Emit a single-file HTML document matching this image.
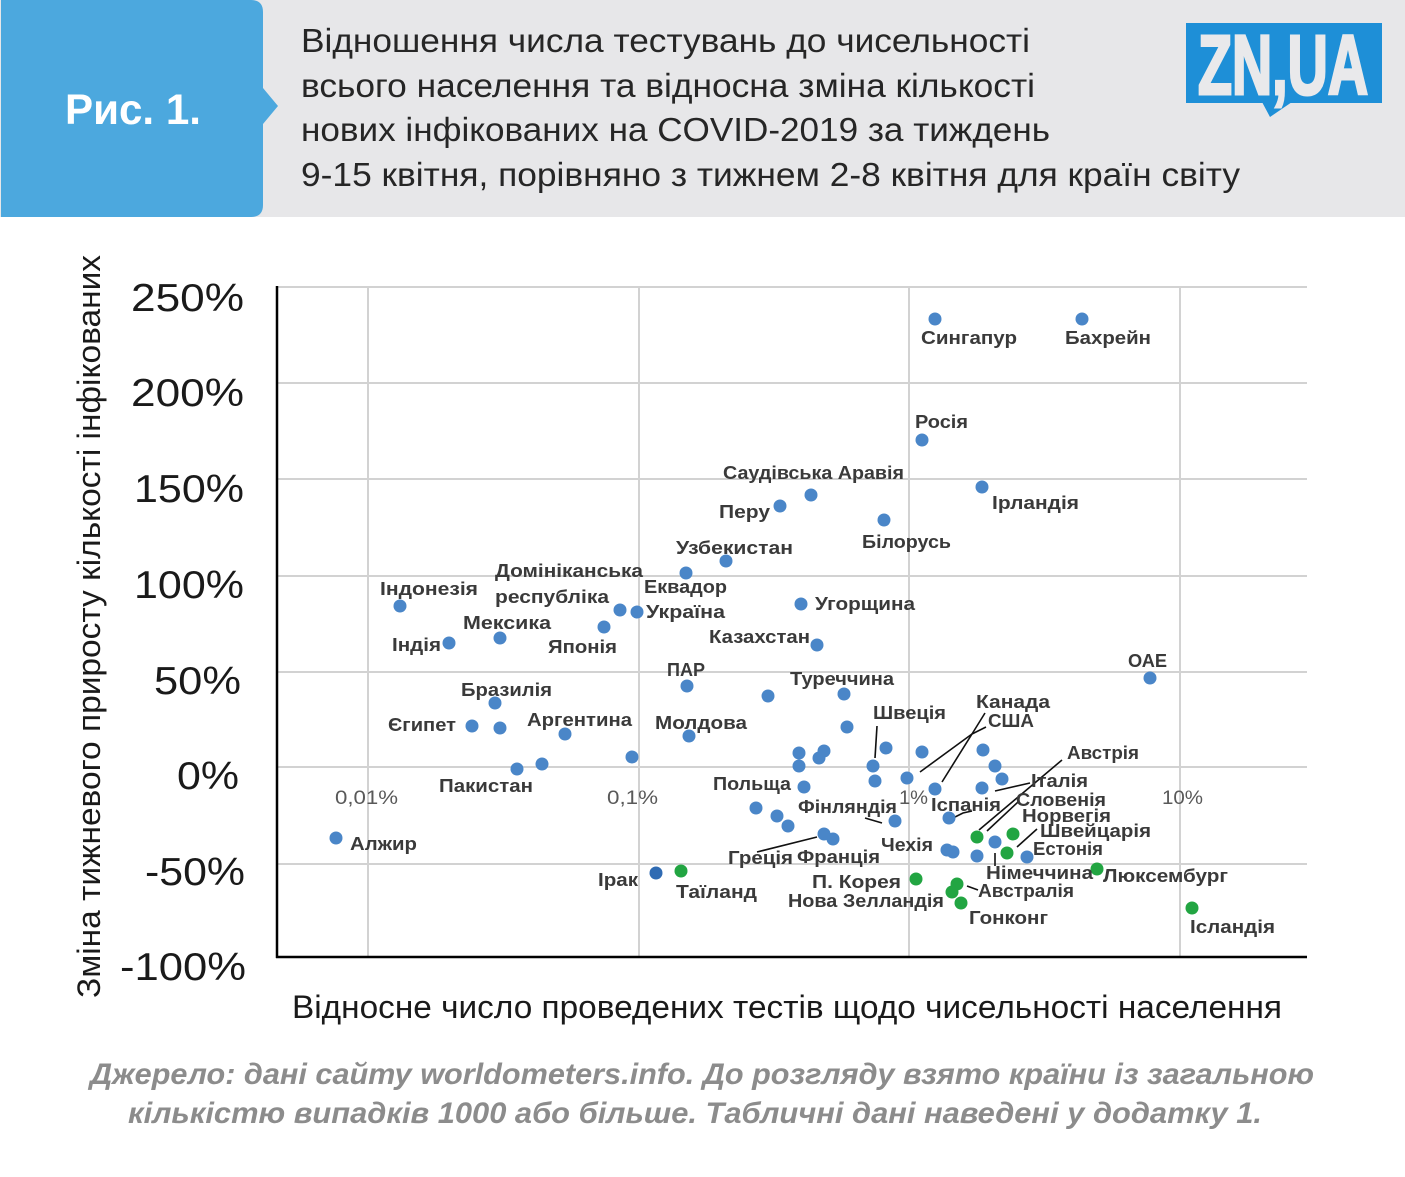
<!DOCTYPE html>
<html><head><meta charset="utf-8"><style>
html,body{margin:0;padding:0;background:#fff;}
svg{display:block;}
.t{font-family:"Liberation Sans",sans-serif;}
.lb{font-family:"Liberation Sans",sans-serif;font-weight:bold;font-size:18px;fill:#3a3a3a;}
</style></head><body>
<svg width="1405" height="1177" viewBox="0 0 1405 1177" xmlns="http://www.w3.org/2000/svg">
<rect x="0" y="0" width="1405" height="1177" fill="#fff"/>
<!-- header -->
<rect x="0" y="0" width="1405" height="217" fill="#E7E7E9"/>
<path d="M1 0 H251 Q263 0 263 12 V88 L278 106 L263 124 V205 Q263 217 251 217 H1 Z" fill="#4CA8DE"/>
<text class="t" x="65" y="124" font-size="43" font-weight="bold" fill="#fff" textLength="136" lengthAdjust="spacingAndGlyphs">Рис. 1.</text>
<g class="t" font-size="33" fill="#262626">
<text x="301" y="52" textLength="729" lengthAdjust="spacingAndGlyphs">Відношення числа тестувань до чисельності</text>
<text x="301" y="97" textLength="734" lengthAdjust="spacingAndGlyphs">всього населення та відносна зміна кількості</text>
<text x="301" y="141" textLength="749" lengthAdjust="spacingAndGlyphs">нових інфікованих на COVID-2019 за тиждень</text>
<text x="301" y="186" textLength="939" lengthAdjust="spacingAndGlyphs">9-15 квітня, порівняно з тижнем 2-8 квітня для країн світу</text>
</g>
<!-- logo -->
<rect x="1186" y="23" width="196" height="80" fill="#1E8FD7"/>
<path d="M1262 102 L1292 102 L1270 117 Z" fill="#1E8FD7"/>
<text class="t" x="1198" y="94" font-size="84" font-weight="bold" fill="#E9E9EB" stroke="#E9E9EB" stroke-width="3" textLength="170" lengthAdjust="spacingAndGlyphs">ZN,UA</text>

<!-- gridlines -->
<g stroke="#D2D2D2" stroke-width="2">
<line x1="277" y1="287" x2="1307" y2="287"/>
<line x1="277" y1="383" x2="1307" y2="383"/>
<line x1="277" y1="479" x2="1307" y2="479"/>
<line x1="277" y1="576" x2="1307" y2="576"/>
<line x1="277" y1="672" x2="1307" y2="672"/>
<line x1="277" y1="767" x2="1307" y2="767"/>
<line x1="277" y1="864" x2="1307" y2="864"/>
<line x1="368" y1="287" x2="368" y2="957"/>
<line x1="639" y1="287" x2="639" y2="957"/>
<line x1="909" y1="287" x2="909" y2="957"/>
<line x1="1180" y1="287" x2="1180" y2="957"/>
</g>
<g stroke="#000" stroke-width="2.5">
<line x1="277" y1="286" x2="277" y2="958"/>
<line x1="276" y1="957" x2="1307" y2="957"/>
</g>

<!-- y tick labels -->
<g class="t" font-size="39" fill="#1a1a1a" text-anchor="end">
<text x="244" y="311" textLength="113" lengthAdjust="spacingAndGlyphs">250%</text>
<text x="244" y="406" textLength="113" lengthAdjust="spacingAndGlyphs">200%</text>
<text x="244" y="502" textLength="110" lengthAdjust="spacingAndGlyphs">150%</text>
<text x="244" y="598" textLength="110" lengthAdjust="spacingAndGlyphs">100%</text>
<text x="241" y="694" textLength="87" lengthAdjust="spacingAndGlyphs">50%</text>
<text x="239" y="789" textLength="62" lengthAdjust="spacingAndGlyphs">0%</text>
<text x="245" y="885" textLength="100" lengthAdjust="spacingAndGlyphs">-50%</text>
<text x="246" y="980" textLength="126" lengthAdjust="spacingAndGlyphs">-100%</text>
</g>
<!-- axis titles -->
<text class="t" font-size="32" fill="#1a1a1a" transform="translate(100,998) rotate(-90)" textLength="743" lengthAdjust="spacingAndGlyphs">Зміна тижневого приросту кількості інфікованих</text>
<text class="t" x="292" y="1018" font-size="32" fill="#1a1a1a" textLength="990" lengthAdjust="spacingAndGlyphs">Відносне число проведених тестів щодо чисельності населення</text>

<!-- x tick labels -->
<g class="t" font-size="19" fill="#595959">
<text x="335" y="804" textLength="63" lengthAdjust="spacingAndGlyphs">0,01%</text>
<text x="607" y="804" textLength="51" lengthAdjust="spacingAndGlyphs">0,1%</text>
<text x="899" y="804" textLength="29" lengthAdjust="spacingAndGlyphs">1%</text>
<text x="1162" y="804" textLength="41" lengthAdjust="spacingAndGlyphs">10%</text>
</g>

<!-- leader lines -->
<g stroke="#111" stroke-width="1.6" fill="none">
<polyline points="877,726 875,758"/>
<polyline points="985,713 972,734 920,772"/>
<polyline points="986,727 972,734 942,782"/>
<polyline points="995,791 1030,783"/>
<polyline points="1062,760 979,830"/>
<polyline points="1018,802 987,831"/>
<polyline points="955,817 963,813 972,811"/>
<polyline points="1037,829 1017,847"/>
<polyline points="995,853 995,866"/>
<polyline points="967,886 978,890"/>
<polyline points="865,818 882,823"/>
<polyline points="757,852 817,837"/>
</g>

<!-- points blue -->
<g fill="#4A86C8">
<circle cx="935" cy="319" r="6.5"/><circle cx="1082" cy="319" r="6.5"/>
<circle cx="922" cy="440" r="6.5"/><circle cx="811" cy="495" r="6.5"/>
<circle cx="780" cy="506" r="6.5"/><circle cx="982" cy="487" r="6.5"/>
<circle cx="884" cy="520" r="6.5"/><circle cx="726" cy="561" r="6.5"/>
<circle cx="686" cy="573" r="6.5"/><circle cx="400" cy="606" r="6.5"/>
<circle cx="620" cy="610" r="6.5"/><circle cx="637" cy="612" r="6.5"/>
<circle cx="500" cy="638" r="6.5"/><circle cx="604" cy="627" r="6.5"/>
<circle cx="449" cy="643" r="6.5"/><circle cx="801" cy="604" r="6.5"/>
<circle cx="817" cy="645" r="6.5"/><circle cx="687" cy="686" r="6.5"/>
<circle cx="768" cy="696" r="6.5"/><circle cx="844" cy="694" r="6.5"/>
<circle cx="495" cy="703" r="6.5"/><circle cx="472" cy="726" r="6.5"/>
<circle cx="500" cy="728" r="6.5"/><circle cx="565" cy="734" r="6.5"/>
<circle cx="689" cy="736" r="6.5"/><circle cx="847" cy="727" r="6.5"/>
<circle cx="632" cy="757" r="6.5"/><circle cx="517" cy="769" r="6.5"/>
<circle cx="542" cy="764" r="6.5"/><circle cx="336" cy="838" r="6.5"/>
<circle cx="1150" cy="678" r="6.5"/>
<circle cx="799" cy="753" r="6.5"/><circle cx="824" cy="751" r="6.5"/>
<circle cx="819" cy="758" r="6.5"/><circle cx="799" cy="766" r="6.5"/>
<circle cx="886" cy="748" r="6.5"/><circle cx="922" cy="752" r="6.5"/>
<circle cx="873" cy="766" r="6.5"/><circle cx="875" cy="781" r="6.5"/>
<circle cx="907" cy="778" r="6.5"/><circle cx="804" cy="787" r="6.5"/>
<circle cx="935" cy="789" r="6.5"/><circle cx="983" cy="750" r="6.5"/>
<circle cx="982" cy="788" r="6.5"/><circle cx="995" cy="766" r="6.5"/>
<circle cx="1002" cy="779" r="6.5"/><circle cx="756" cy="808" r="6.5"/>
<circle cx="777" cy="816" r="6.5"/><circle cx="788" cy="826" r="6.5"/>
<circle cx="895" cy="821" r="6.5"/><circle cx="949" cy="818" r="6.5"/>
<circle cx="824" cy="834" r="6.5"/><circle cx="833" cy="839" r="6.5"/>
<circle cx="947" cy="850" r="6.5"/><circle cx="953" cy="852" r="6.5"/>
<circle cx="995" cy="842" r="6.5"/><circle cx="977" cy="856" r="6.5"/>
<circle cx="1027" cy="857" r="6.5"/>
</g>
<circle cx="656" cy="873" r="6.5" fill="#2F6BB3"/>
<!-- points green -->
<g fill="#22A542">
<circle cx="681" cy="871" r="6.5"/><circle cx="977" cy="837" r="6.5"/>
<circle cx="1013" cy="834" r="6.5"/><circle cx="1007" cy="853" r="6.5"/>
<circle cx="916" cy="879" r="6.5"/><circle cx="957" cy="884" r="6.5"/>
<circle cx="952" cy="892" r="6.5"/><circle cx="961" cy="903" r="6.5"/>
<circle cx="1097" cy="869" r="6.5"/><circle cx="1192" cy="908" r="6.5"/>
</g>

<!-- labels -->
<g class="lb">
<text x="921" y="344" textLength="96" lengthAdjust="spacingAndGlyphs">Сингапур</text>
<text x="1065" y="344" textLength="86" lengthAdjust="spacingAndGlyphs">Бахрейн</text>
<text x="915" y="428" textLength="53" lengthAdjust="spacingAndGlyphs">Росія</text>
<text x="723" y="479" textLength="181" lengthAdjust="spacingAndGlyphs">Саудівська Аравія</text>
<text x="719" y="518" textLength="51" lengthAdjust="spacingAndGlyphs">Перу</text>
<text x="992" y="509" textLength="87" lengthAdjust="spacingAndGlyphs">Ірландія</text>
<text x="862" y="548" textLength="89" lengthAdjust="spacingAndGlyphs">Білорусь</text>
<text x="676" y="554" textLength="117" lengthAdjust="spacingAndGlyphs">Узбекистан</text>
<text x="495" y="577" textLength="148" lengthAdjust="spacingAndGlyphs">Домініканська</text>
<text x="495" y="603" textLength="114" lengthAdjust="spacingAndGlyphs">республіка</text>
<text x="380" y="595" textLength="98" lengthAdjust="spacingAndGlyphs">Індонезія</text>
<text x="644" y="593" textLength="83" lengthAdjust="spacingAndGlyphs">Еквадор</text>
<text x="646" y="618" textLength="79" lengthAdjust="spacingAndGlyphs">Україна</text>
<text x="463" y="629" textLength="88" lengthAdjust="spacingAndGlyphs">Мексика</text>
<text x="548" y="653" textLength="69" lengthAdjust="spacingAndGlyphs">Японія</text>
<text x="392" y="651" textLength="49" lengthAdjust="spacingAndGlyphs">Індія</text>
<text x="815" y="610" textLength="100" lengthAdjust="spacingAndGlyphs">Угорщина</text>
<text x="709" y="643" textLength="101" lengthAdjust="spacingAndGlyphs">Казахстан</text>
<text x="667" y="676" textLength="38" lengthAdjust="spacingAndGlyphs">ПАР</text>
<text x="790" y="685" textLength="104" lengthAdjust="spacingAndGlyphs">Туреччина</text>
<text x="461" y="696" textLength="91" lengthAdjust="spacingAndGlyphs">Бразилія</text>
<text x="388" y="731" textLength="68" lengthAdjust="spacingAndGlyphs">Єгипет</text>
<text x="527" y="726" textLength="105" lengthAdjust="spacingAndGlyphs">Аргентина</text>
<text x="655" y="729" textLength="92" lengthAdjust="spacingAndGlyphs">Молдова</text>
<text x="873" y="719" textLength="73" lengthAdjust="spacingAndGlyphs">Швеція</text>
<text x="976" y="708" textLength="74" lengthAdjust="spacingAndGlyphs">Канада</text>
<text x="988" y="727" textLength="46" lengthAdjust="spacingAndGlyphs">США</text>
<text x="1128" y="667" textLength="39" lengthAdjust="spacingAndGlyphs">ОАЕ</text>
<text x="1067" y="759" textLength="72" lengthAdjust="spacingAndGlyphs">Австрія</text>
<text x="439" y="792" textLength="94" lengthAdjust="spacingAndGlyphs">Пакистан</text>
<text x="713" y="790" textLength="78" lengthAdjust="spacingAndGlyphs">Польща</text>
<text x="1031" y="787" textLength="57" lengthAdjust="spacingAndGlyphs">Італія</text>
<text x="798" y="813" textLength="99" lengthAdjust="spacingAndGlyphs">Фінляндія</text>
<text x="931" y="811" textLength="70" lengthAdjust="spacingAndGlyphs">Іспанія</text>
<text x="1016" y="806" textLength="90" lengthAdjust="spacingAndGlyphs">Словенія</text>
<text x="1022" y="822" textLength="89" lengthAdjust="spacingAndGlyphs">Норвегія</text>
<text x="1040" y="837" textLength="111" lengthAdjust="spacingAndGlyphs">Швейцарія</text>
<text x="350" y="850" textLength="67" lengthAdjust="spacingAndGlyphs">Алжир</text>
<text x="881" y="851" textLength="52" lengthAdjust="spacingAndGlyphs">Чехія</text>
<text x="1033" y="855" textLength="70" lengthAdjust="spacingAndGlyphs">Естонія</text>
<text x="728" y="864" textLength="65" lengthAdjust="spacingAndGlyphs">Греція</text>
<text x="797" y="863" textLength="83" lengthAdjust="spacingAndGlyphs">Франція</text>
<text x="986" y="879" textLength="107" lengthAdjust="spacingAndGlyphs">Німеччина</text>
<text x="1103" y="882" textLength="125" lengthAdjust="spacingAndGlyphs">Люксембург</text>
<text x="598" y="886" textLength="40" lengthAdjust="spacingAndGlyphs">Ірак</text>
<text x="676" y="898" textLength="81" lengthAdjust="spacingAndGlyphs">Таїланд</text>
<text x="812" y="888" textLength="89" lengthAdjust="spacingAndGlyphs">П. Корея</text>
<text x="788" y="907" textLength="156" lengthAdjust="spacingAndGlyphs">Нова Зелландія</text>
<text x="978" y="897" textLength="96" lengthAdjust="spacingAndGlyphs">Австралія</text>
<text x="969" y="924" textLength="79" lengthAdjust="spacingAndGlyphs">Гонконг</text>
<text x="1190" y="933" textLength="85" lengthAdjust="spacingAndGlyphs">Ісландія</text>
</g>

<!-- footer -->
<g class="t" font-size="30" font-weight="bold" font-style="italic" fill="#8C8C8C">
<text x="90" y="1084" textLength="1224" lengthAdjust="spacingAndGlyphs">Джерело: дані сайту worldometers.info. До розгляду взято країни із загальною</text>
<text x="128" y="1123" textLength="1134" lengthAdjust="spacingAndGlyphs">кількістю випадків 1000 або більше. Табличні дані наведені у додатку 1.</text>
</g>
</svg>
</body></html>
